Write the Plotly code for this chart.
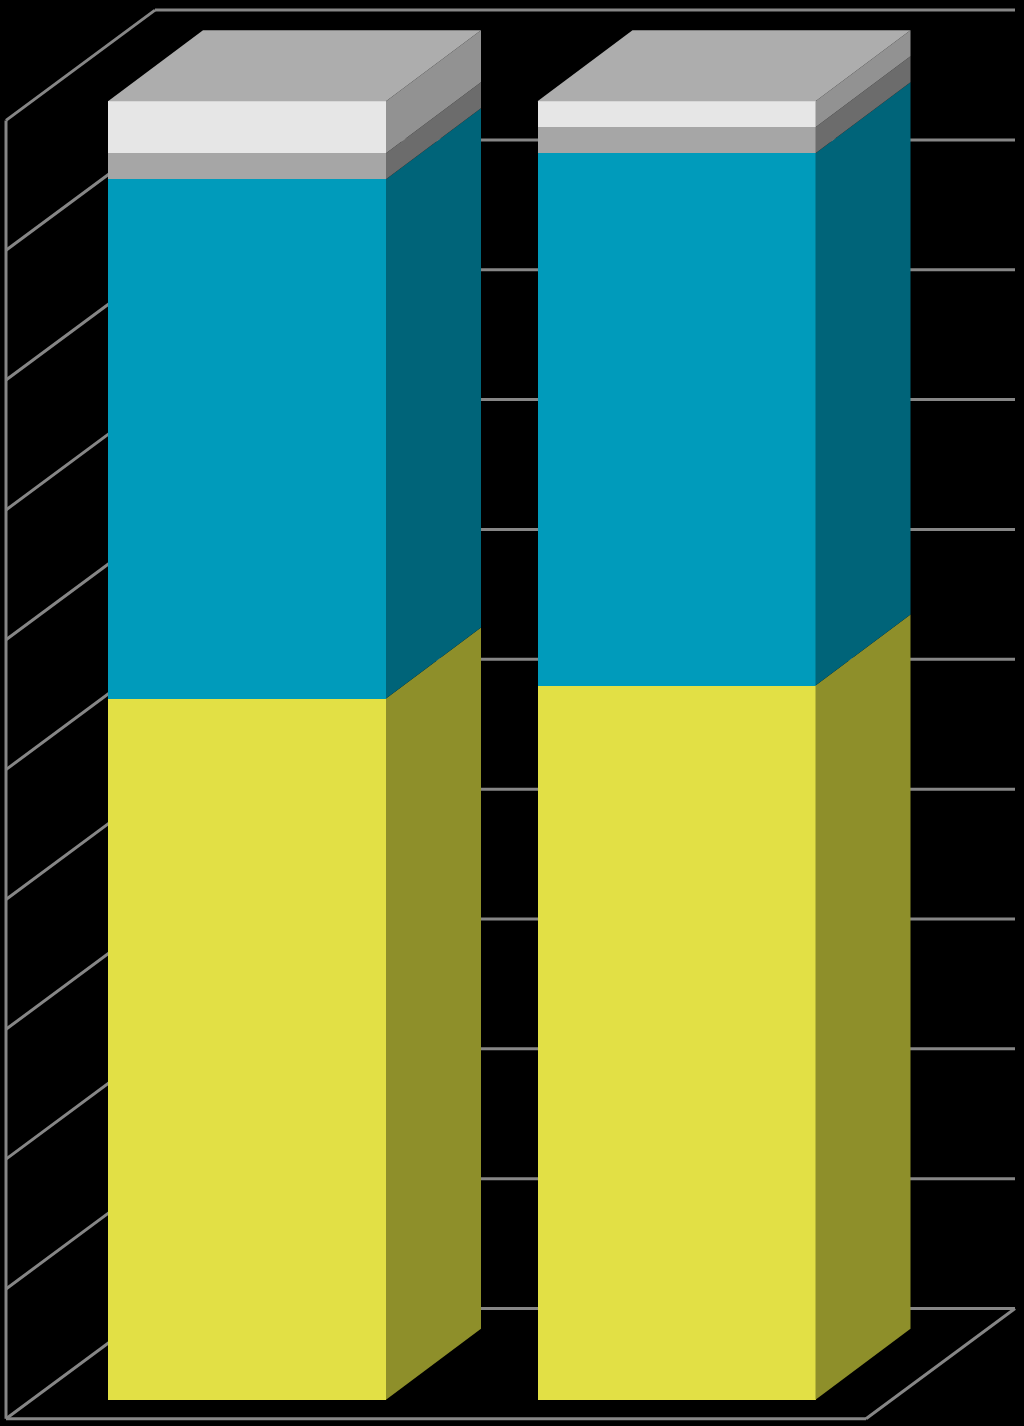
import plotly.graph_objects as go

# ---- data (percent shares, bottom to top) ----
categories = [0, 1]
yellow_values = [54, 55]
blue_values = [40, 41]
gray_values = [2, 2]
white_values = [4, 2]
grid_values = [0, 10, 20, 30, 40, 50, 60, 70, 80, 90, 100]

series_values = [yellow_values, blue_values, gray_values, white_values]
front_colors = ["#E2E045", "#009BBB", "#A6A6A6", "#E6E6E6"]
side_colors = ["#8E8F2A", "#006479", "#6C6C6C", "#929292"]
top_color = "#ADADAD"
wall_color = "#868686"

# ---- projection of the pseudo-3D chart, in axis units ----
W, H = 1024, 1426
PX_PER_CAT = 429.5
PX_PER_VAL = 12.984
CAT0_PX = 247.0
ZERO_PX = 1399.7
BAR_WIDTH = 278.0 / PX_PER_CAT
BAR_DX = 95.0 / PX_PER_CAT
BAR_DY = 71.0 / PX_PER_VAL
WALL_LEFT = (6.0 - CAT0_PX) / PX_PER_CAT
WALL_RIGHT = (866.0 - CAT0_PX) / PX_PER_CAT
WALL_BASE = (ZERO_PX - 1418.8) / PX_PER_VAL
WALL_DX = 149.0 / PX_PER_CAT
WALL_DY = 110.3 / PX_PER_VAL

fig = go.Figure()

# front faces
for values, color in zip(series_values, front_colors):
    fig.add_trace(go.Bar(x=categories, y=values, width=BAR_WIDTH,
                         marker=dict(color=color, line=dict(width=0)),
                         hoverinfo="skip", showlegend=False))


def polygon(xs, ys, color):
    fig.add_trace(go.Scatter(x=xs, y=ys, mode="lines", fill="toself",
                             fillcolor=color, line=dict(width=0, color=color),
                             hoverinfo="skip", showlegend=False))


# side and top faces
for i, cat in enumerate(categories):
    left = cat - BAR_WIDTH / 2
    right = cat + BAR_WIDTH / 2
    base = 0
    for values, color in zip(series_values, side_colors):
        top = base + values[i]
        polygon([right, right + BAR_DX, right + BAR_DX, right, right],
                [base, base + BAR_DY, top + BAR_DY, top, base], color)
        base = top
    polygon([left, left + BAR_DX, right + BAR_DX, right, left],
            [base, base + BAR_DY, base + BAR_DY, base, base], top_color)

# walls and gridlines, under the bars
shapes = []


def wall_line(x0, y0, x1, y1):
    shapes.append(dict(type="line", xref="x", yref="y", x0=x0, y0=y0, x1=x1, y1=y1,
                       layer="below", line=dict(color=wall_color, width=3)))


for v in grid_values:
    y_front = WALL_BASE + v
    y_back = y_front + WALL_DY
    wall_line(WALL_LEFT, y_front, WALL_LEFT + WALL_DX, y_back)
    wall_line(WALL_LEFT + WALL_DX, y_back, WALL_RIGHT + WALL_DX, y_back)
wall_line(WALL_LEFT, WALL_BASE, WALL_LEFT, WALL_BASE + grid_values[-1])
wall_line(WALL_LEFT, WALL_BASE, WALL_RIGHT, WALL_BASE)
wall_line(WALL_RIGHT, WALL_BASE, WALL_RIGHT + WALL_DX, WALL_BASE + WALL_DY)

fig.update_layout(
    barmode="stack",
    width=W, height=H, autosize=False,
    margin=dict(l=0, r=0, t=0, b=0, pad=0),
    paper_bgcolor="#000000", plot_bgcolor="#000000",
    showlegend=False,
    shapes=shapes,
    xaxis=dict(range=[-CAT0_PX / PX_PER_CAT, (W - CAT0_PX) / PX_PER_CAT],
               visible=False, fixedrange=True),
    yaxis=dict(range=[(ZERO_PX - H) / PX_PER_VAL, ZERO_PX / PX_PER_VAL],
               visible=False, fixedrange=True),
)

fig.write_html("out.html", config={"displayModeBar": False},
               post_script="document.body.style.margin='0';document.body.style.background='#000';")
